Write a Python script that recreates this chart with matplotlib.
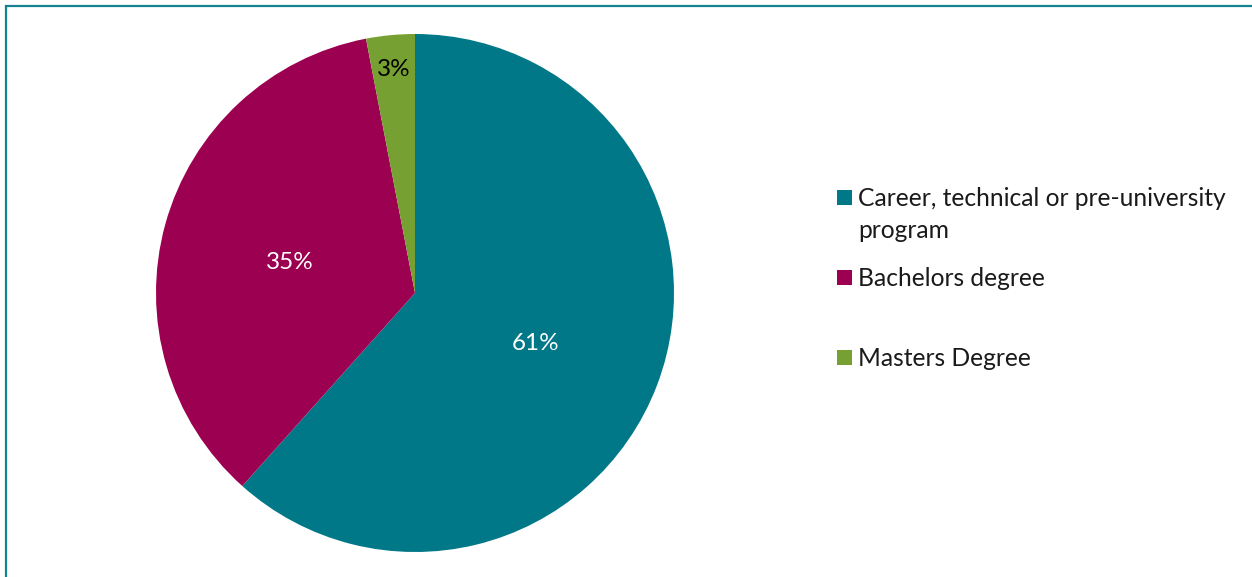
import numpy as np
import matplotlib.pyplot as plt
from matplotlib.patches import Rectangle

plt.rcParams['font.family'] = ['Lato', 'DejaVu Sans']

categories = ["Career, technical or pre-university\nprogram", "Bachelors degree", "Masters Degree"]
shares = [61, 35, 3]
share_labels = ["61%", "35%", "3%"]
colors = ["#007887", "#9C0050", "#77A033"]
label_colors = ["white", "white", "black"]

W, H = 1252, 577
fig = plt.figure(figsize=(W / 100, H / 100), dpi=100)

# frame around the chart area (runs off the right and bottom edges)
fig.patches.append(Rectangle((6 / W, -0.1), 1.2, 1 - 6 / H + 0.1,
                             transform=fig.transFigure, fill=False,
                             edgecolor="#15828F", linewidth=1.6))

cx, cy, r = 415, 293, 259
ax = fig.add_axes([(cx - r) / W, (H - cy - r) / H, 2 * r / W, 2 * r / H])
wedges, _ = ax.pie(shares, colors=colors, startangle=90, counterclock=False,
                   radius=1.0, wedgeprops=dict(linewidth=0))
ax.set_xlim(-1, 1)
ax.set_ylim(-1, 1)
ax.set_aspect("equal")
ax.axis("off")

label_r = [0.5, 0.5, 0.88]
for w, txt, col, lr in zip(wedges, share_labels, label_colors, label_r):
    mid = np.deg2rad((w.theta1 + w.theta2) / 2)
    ax.text(lr * np.cos(mid), lr * np.sin(mid) - 0.015, txt, ha="center",
            va="center", color=col, fontsize=17.5)

# legend drawn by hand so the square sits on the first text line
rows_y = [197.5, 277.5, 357.5]
for name, col, y in zip(categories, colors, rows_y):
    fig.patches.append(Rectangle((837 / W, 1 - (y + 7.5) / H), 15 / W, 15 / H,
                                 transform=fig.transFigure, facecolor=col,
                                 edgecolor="none"))
    for i, line in enumerate(name.split("\n")):
        fig.text(858 / W, 1 - (y + 8.5 + 32 * i) / H, line, ha="left",
                 va="baseline", fontsize=17.7, color="#1a1a1a")

fig.savefig("out.png", dpi=100)
